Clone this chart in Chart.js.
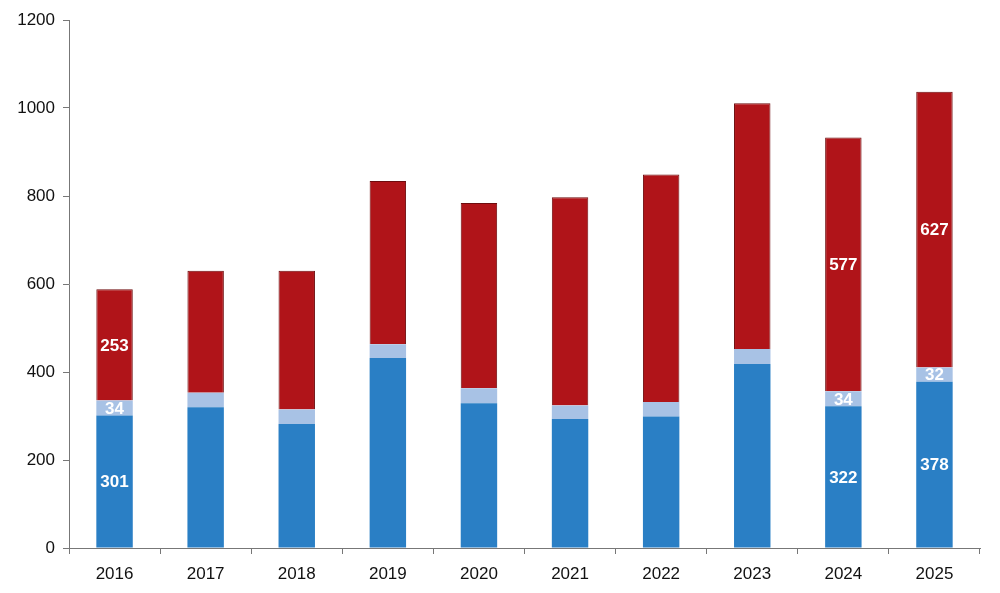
<!DOCTYPE html>
<html>
<head>
<meta charset="utf-8">
<script src="https://cdn.jsdelivr.net/npm/chart.js@4"></script>
<style>
  html, body { margin: 0; padding: 0; background: #fff; }
  #wrap { width: 1000px; height: 593px; }
</style>
</head>
<body>
<div id="wrap"><canvas id="chart"></canvas></div>
<script>
const years = ['2016', '2017', '2018', '2019', '2020', '2021', '2022', '2023', '2024', '2025'];
const blueValues = [301, 320, 282, 432, 329, 293, 299, 418, 322, 378];
const lightValues = [34, 33, 33, 31, 34, 31, 33, 34, 34, 32];
const redValues = [253, 277, 315, 371, 421, 473, 517, 559, 577, 627];
// only these bars carry value labels in the original
const labeledYears = ['2016', '2024', '2025'];
const yTicks = [0, 200, 400, 600, 800, 1000, 1200];

const fontFamily = "'Liberation Sans', Arial, sans-serif";

const valueLabels = {
  id: 'valueLabels',
  afterDatasetsDraw(chart) {
    const ctx = chart.ctx;
    ctx.save();
    ctx.font = 'bold 17px ' + fontFamily;
    ctx.fillStyle = '#ffffff';
    ctx.textAlign = 'center';
    ctx.textBaseline = 'middle';
    chart.data.datasets.forEach((ds, di) => {
      const meta = chart.getDatasetMeta(di);
      meta.data.forEach((bar, i) => {
        if (labeledYears.indexOf(years[i]) === -1) return;
        const p = bar.getProps(['x', 'y', 'base'], true);
        ctx.fillText(ds.data[i], p.x, (p.y + p.base) / 2 + 1);
      });
    });
    ctx.restore();
  }
};

var ctx = document.getElementById('chart').getContext('2d');

var chart = new Chart(ctx, {
  type: 'bar',
  data: {
    labels: years,
    datasets: [{
      label: 'Blue',
      data: blueValues,
      backgroundColor: '#2a7fc5',
      borderWidth: 0
    },
    {
      label: 'Light',
      data: lightValues,
      backgroundColor: '#a8c2e5',
      borderWidth: 0
    },
    {
      label: 'Red',
      data: redValues,
      backgroundColor: '#b01419',
      borderColor: '#6e0c0e',
      borderWidth: 1,
      borderSkipped: 'bottom'
    }]
  },
  plugins: [valueLabels],
  options: {
    responsive: true,
    maintainAspectRatio: false,
    animation: false,
    layout: {
      padding: { top: 20, right: 20, left: 0, bottom: 0 }
    },
    plugins: {
      legend: { display: false },
      tooltip: { enabled: false }
    },
    datasets: {
      bar: {
        categoryPercentage: 1,
        barPercentage: 0.4
      }
    },
    scales: {
      x: {
        stacked: true,
        grid: {
          display: true,
          offset: true,
          drawOnChartArea: false,
          tickLength: 6,
          color: '#777'
        },
        border: { color: '#777', width: 1 },
        ticks: {
          color: '#111',
          padding: 10,
          font: { family: fontFamily, size: 17 }
        },
        afterFit(scale) { scale.height = 45; }
      },
      y: {
        stacked: true,
        min: 0,
        max: 1200,
        afterBuildTicks(scale) {
          scale.ticks = yTicks.map(v => ({ value: v }));
        },
        grid: {
          display: true,
          drawOnChartArea: false,
          tickLength: 6,
          color: '#777'
        },
        border: { color: '#777', width: 1 },
        ticks: {
          color: '#111',
          padding: 8,
          font: { family: fontFamily, size: 17 },
          callback: (v) => String(v)
        },
        afterFit(scale) { scale.width = 69; }
      }
    }
  }
});
</script>
</body>
</html>
